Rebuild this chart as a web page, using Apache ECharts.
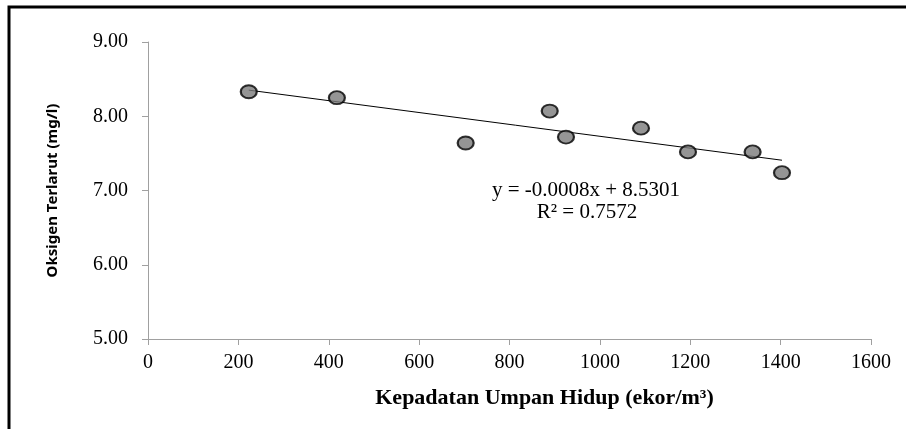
<!DOCTYPE html>
<html>
<head>
<meta charset="utf-8">
<script src="https://cdn.jsdelivr.net/npm/echarts@6/dist/echarts.min.js"></script>
<style>
  html, body { margin: 0; padding: 0; background: #fff; }
  #chart { width: 906px; height: 429px; }
</style>
</head>
<body>
<div id="chart"></div>
<script>
// kepadatan umpan hidup (ekor/m3) vs oksigen terlarut (mg/l)
const densityX = [223, 418, 703, 889, 925, 1091, 1195, 1338, 1403];
const oxygenY = [8.33, 8.25, 7.64, 8.07, 7.72, 7.84, 7.52, 7.52, 7.24];

// linear trendline as printed on the chart
const slope = -0.0008;
const intercept = 8.5301;
const equationText = 'y = -0.0008x + 8.5301';
const r2Text = 'R² = 0.7572';

const yTicks = ['5.00', '6.00', '7.00', '8.00', '9.00'];
const xTicks = ['0', '200', '400', '600', '800', '1000', '1200', '1400', '1600'];

const chart = echarts.init(document.getElementById('chart'));

const points = densityX.map((x, i) => [x, oxygenY[i]]);
const xMin = Math.min(...densityX);
const xMax = Math.max(...densityX);
const trend = [
  [xMin, slope * xMin + intercept],
  [xMax, slope * xMax + intercept]
];

const serif = '"Liberation Serif", "Times New Roman", serif';
const axisGray = '#a0a0a0';

chart.setOption({
  animation: false,
  backgroundColor: '#fff',
  grid: { left: 148, right: 35, top: 42, bottom: 90 },
  xAxis: {
    type: 'value',
    min: 0,
    max: 1600,
    interval: 200,
    name: 'Kepadatan Umpan Hidup (ekor/m³)',
    nameLocation: 'middle',
    nameGap: 48,
    nameTextStyle: {
      fontFamily: serif,
      fontWeight: 'bold',
      fontSize: 22,
      color: '#000',
      padding: [0, 0, 0, 70]
    },
    axisLine: { show: true, lineStyle: { color: axisGray, width: 1 } },
    axisTick: { show: true, length: 6, lineStyle: { color: axisGray } },
    axisLabel: {
      fontFamily: serif,
      fontSize: 20,
      color: '#000',
      margin: 14,
      formatter: (v) => xTicks[Math.round(v / 200)]
    },
    splitLine: { show: false }
  },
  yAxis: {
    type: 'value',
    min: 5,
    max: 9,
    interval: 1,
    name: 'Oksigen Terlarut (mg/l)',
    nameLocation: 'middle',
    nameGap: 88,
    nameTextStyle: {
      fontFamily: '"Noto Sans", "DejaVu Sans", sans-serif',
      fontWeight: 'bold',
      fontSize: 15,
      color: '#000'
    },
    axisLine: { show: true, lineStyle: { color: axisGray, width: 1 } },
    axisTick: { show: true, length: 6, lineStyle: { color: axisGray } },
    axisLabel: {
      fontFamily: serif,
      fontSize: 20,
      color: '#000',
      margin: 20,
      formatter: (v) => yTicks[Math.round(v - 5)]
    },
    splitLine: { show: false }
  },
  graphic: [
    {
      type: 'rect',
      shape: { x: 9, y: 7, width: 1000, height: 600 },
      style: { fill: 'none', stroke: '#000', lineWidth: 3 },
      z: 100
    },
    {
      type: 'text',
      style: {
        x: 586, y: 190, text: equationText, font: '21px ' + serif,
        fill: '#000', align: 'center', verticalAlign: 'middle'
      }
    },
    {
      type: 'text',
      style: {
        x: 587, y: 212, text: r2Text, font: '21px ' + serif,
        fill: '#000', align: 'center', verticalAlign: 'middle'
      }
    }
  ],
  series: [
    {
      type: 'line',
      data: trend,
      symbol: 'none',
      lineStyle: { color: '#000', width: 1 },
      z: 2
    },
    {
      type: 'scatter',
      data: points,
      symbol: 'circle',
      symbolSize: [16, 13],
      itemStyle: { color: '#7a7a7a', borderColor: '#000', borderWidth: 2 },
      z: 3
    }
  ]
});
</script>
</body>
</html>
